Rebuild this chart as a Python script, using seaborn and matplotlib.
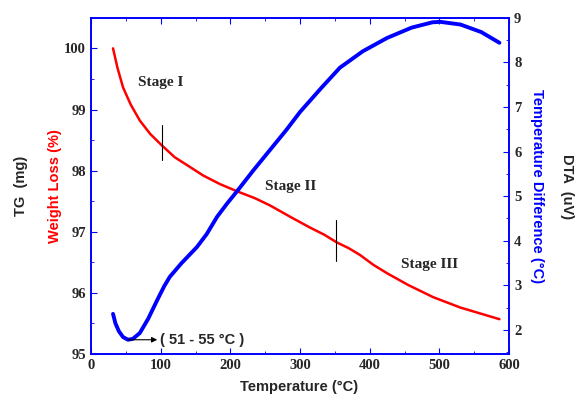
import numpy as np
import pandas as pd
import matplotlib
matplotlib.use("Agg")
import matplotlib.pyplot as plt
import seaborn as sns
from matplotlib.ticker import MultipleLocator

# TG curve (weight %)
tg_temp = [31.6, 38, 46, 57, 70, 85, 101, 120, 142, 161, 185, 210, 235, 257,
           285, 314, 335, 352, 370, 386, 405, 425, 455, 491, 530, 586]
tg_weight = [100.0, 99.68, 99.36, 99.08, 98.82, 98.6, 98.42, 98.22, 98.06, 97.92,
             97.78, 97.66, 97.55, 97.43, 97.25, 97.07, 96.95, 96.83, 96.73, 96.62,
             96.46, 96.32, 96.13, 95.93, 95.76, 95.57]

# DTA curve (temperature difference)
dta_temp = [31.6, 35, 40, 46, 53, 60, 70, 82, 95, 105, 113, 130, 152, 166, 181,
            195, 210, 233, 257, 280, 300, 330, 357, 390, 425, 460, 490, 501, 530,
            560, 586]
dta_diff = [2.36, 2.15, 1.97, 1.84, 1.78, 1.8, 1.93, 2.25, 2.67, 2.98, 3.19, 3.5,
            3.86, 4.15, 4.54, 4.83, 5.12, 5.58, 6.04, 6.48, 6.89, 7.42, 7.88, 8.25,
            8.55, 8.78, 8.9, 8.91, 8.85, 8.68, 8.44]

stage_labels = ["Stage I", "Stage II", "Stage III"]
stage_pos = [(67, 99.44), (250, 97.74), (445, 96.47)]
stage_marks = [(101.5, 98.17, 98.75), (351, 96.52, 97.19)]

tg = pd.DataFrame({"Temperature": tg_temp, "Weight": tg_weight})
dta = pd.DataFrame({"Temperature": dta_temp, "Diff": dta_diff})

sns.set_style("ticks")
plt.rcParams["font.family"] = ["Liberation Serif", "DejaVu Serif"]

fig = plt.figure(figsize=(5.76, 3.96), dpi=100)
ax = fig.add_axes([0.158, 0.106, 0.726, 0.849])
ax2 = ax.twinx()

sns.lineplot(data=tg, x="Temperature", y="Weight", ax=ax, color="red", lw=1.8)
sns.lineplot(data=dta, x="Temperature", y="Diff", ax=ax2, color="blue", lw=2.8)

ax.set_xlim(0, 600)
ax.set_ylim(95, 100.5)
ax2.set_ylim(1.46, 9)

ax.xaxis.set_major_locator(MultipleLocator(100))
ax.xaxis.set_minor_locator(MultipleLocator(50))
ax.yaxis.set_major_locator(MultipleLocator(1))
ax.yaxis.set_minor_locator(MultipleLocator(0.5))
ax2.yaxis.set_major_locator(MultipleLocator(1))
ax2.yaxis.set_minor_locator(MultipleLocator(0.5))

for a in (ax, ax2):
    for s in a.spines.values():
        s.set_color("blue")
        s.set_linewidth(1.2)
ax.tick_params(which="both", direction="in", color="blue", top=True, right=False)
ax.tick_params(which="major", length=4)
ax.tick_params(which="minor", length=2)
ax2.tick_params(which="both", direction="in", color="blue")
ax2.tick_params(which="major", length=4)
ax2.tick_params(which="minor", length=2)
for lab in ax.get_xticklabels() + ax.get_yticklabels() + ax2.get_yticklabels():
    lab.set_fontweight("bold")
    lab.set_fontsize(10.5)

ax.set_xlabel("")
ax.set_ylabel("")
ax2.set_ylabel("")

sans = ["Liberation Sans", "DejaVu Sans"]
fig.text(0.52, 0.005, "Temperature (°C)", ha="center", va="bottom",
         fontsize=10.5, fontweight="bold", family=sans)
fig.text(0.036, 0.53, "TG  (mg)", rotation=90, ha="center", va="center",
         fontsize=10.5, fontweight="bold", family=sans)
fig.text(0.095, 0.53, "Weight Loss (%)", rotation=90, ha="center", va="center",
         fontsize=10.5, fontweight="bold", color="red", family=sans)
fig.text(0.933, 0.53, "Temperature Difference (°C)", rotation=270, ha="center",
         va="center", fontsize=10.5, fontweight="bold", color="blue", family=sans)
fig.text(0.985, 0.53, "DTA  (uV)", rotation=270, ha="center", va="center",
         fontsize=10.5, fontweight="bold", family=sans)

for lab, (x, y) in zip(stage_labels, stage_pos):
    ax.text(x, y, lab, ha="left", va="center", fontsize=11, fontweight="bold")
for x, y0, y1 in stage_marks:
    ax.plot([x, x], [y0, y1], color="black", lw=0.8)

ax2.annotate("", xy=(95, 1.78), xytext=(53, 1.78),
             arrowprops=dict(arrowstyle="-|>", color="black", lw=0.8,
                             mutation_scale=8, shrinkA=0, shrinkB=0))
ax2.text(99, 1.78, "( 51 - 55 °C )", ha="left", va="center", fontsize=10.5,
         fontweight="bold", family=sans)

fig.savefig("out.png", dpi=100)
